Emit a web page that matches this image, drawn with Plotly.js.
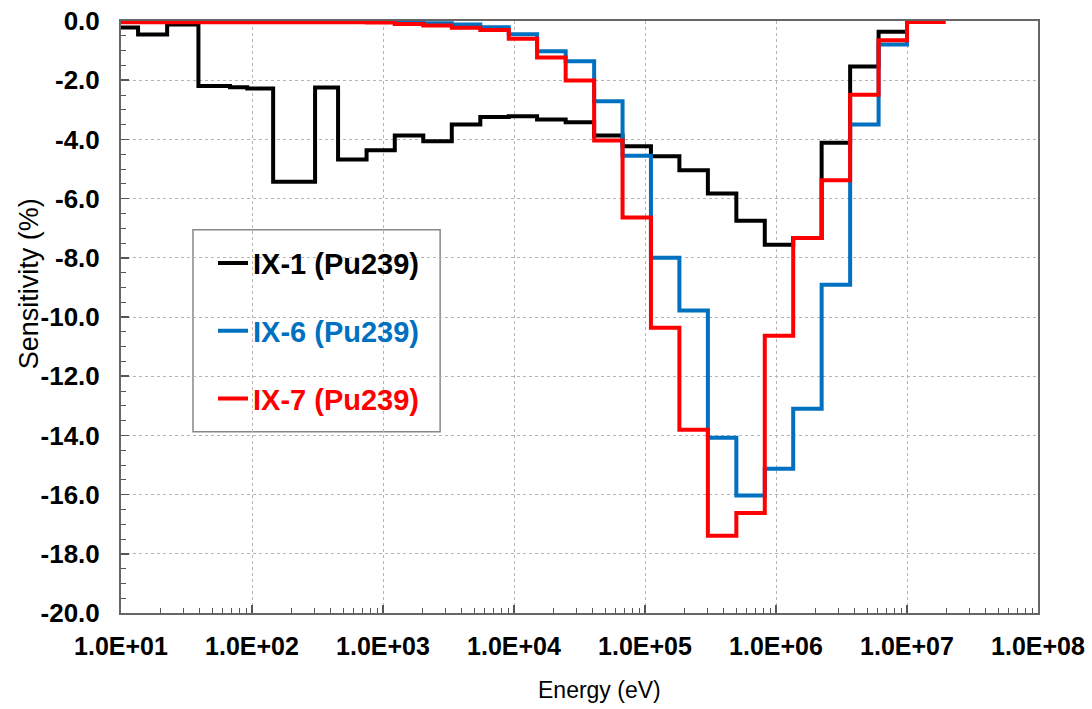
<!DOCTYPE html>
<html>
<head>
<meta charset="utf-8">
<script src="https://cdn.plot.ly/plotly-3.0.1.min.js"></script>
<style>
html,body{margin:0;padding:0;background:#ffffff;}
#chart{width:1092px;height:709px;}
</style>
</head>
<body>
<div id="chart"></div>
<script>
// Energy group boundaries (eV), lowest to highest
const energyBounds = [10, 13.5, 22.5, 39, 68, 92, 145, 303, 454, 749, 1230, 2030, 3350, 5530, 9120,
  15000, 24800, 40900, 67400, 111000, 183000, 302000, 498000, 821000, 1353000, 2230000, 3680000,
  6070000, 10000000, 19600000];

// Sensitivity (%) per energy group
const ix1 = [-0.22, -0.46, -0.12, -2.20, -2.24, -2.28, -5.43, -2.25, -4.68, -4.37, -3.87, -4.06, -3.50,
  -3.24, -3.22, -3.33, -3.42, -3.87, -4.23, -4.57, -5.04, -5.83, -6.75, -7.56, -7.33, -4.11, -1.54,
  -0.36, -0.03];
const ix6 = [-0.01, -0.01, -0.01, -0.01, -0.01, -0.01, -0.01, -0.01, -0.01, -0.03, -0.05, -0.08, -0.12,
  -0.21, -0.45, -1.02, -1.36, -2.71, -4.55, -8.00, -9.78, -14.08, -16.03, -15.13, -13.10, -8.91, -3.50,
  -0.79, -0.03];
const ix7 = [-0.04, -0.04, -0.04, -0.04, -0.04, -0.04, -0.04, -0.04, -0.04, -0.05, -0.10, -0.15, -0.23,
  -0.30, -0.60, -1.23, -2.01, -4.04, -6.64, -10.36, -13.81, -17.39, -16.62, -10.63, -7.33, -5.38, -2.49,
  -0.65, -0.03];

const seriesNames = ["IX-1 (Pu239)", "IX-6 (Pu239)", "IX-7 (Pu239)"];
const seriesColors = ["#000000", "#0070C0", "#FF0000"];

const xTickVals = [1e1, 1e2, 1e3, 1e4, 1e5, 1e6, 1e7, 1e8];
const xTickText = ["1.0E+01", "1.0E+02", "1.0E+03", "1.0E+04", "1.0E+05", "1.0E+06", "1.0E+07", "1.0E+08"];
const yTickVals = [0, -2, -4, -6, -8, -10, -12, -14, -16, -18, -20];
const yTickText = ["0.0", "-2.0", "-4.0", "-6.0", "-8.0", "-10.0", "-12.0", "-14.0", "-16.0", "-18.0", "-20.0"];

const xTitle = "Energy (eV)";
const yTitle = "Sensitivity (%)";

const FONT = '"Liberation Sans", Arial, sans-serif';

function stepTrace(vals, i) {
  return {
    type: 'scatter',
    mode: 'lines',
    x: energyBounds,
    y: vals.concat([vals[vals.length - 1]]),
    line: {shape: 'hv', color: seriesColors[i], width: 4},
    name: '<span style="color:' + seriesColors[i] + '">' + seriesNames[i] + '</span>',
    legendgroup: 'g' + i,
    hoverinfo: 'x+y'
  };
}

const data = [stepTrace(ix1, 0), stepTrace(ix6, 1), stepTrace(ix7, 2)];

const layout = {
  width: 1092,
  height: 709,
  margin: {l: 121, r: 54, t: 21, b: 96},
  paper_bgcolor: '#ffffff',
  plot_bgcolor: '#ffffff',
  font: {family: FONT, color: '#000000'},
  showlegend: true,
  legend: {
    x: 0.1003, xanchor: 'left',
    y: 0.634, yanchor: 'top',
    bgcolor: 'rgba(0,0,0,0)',
    borderwidth: 0,
    tracegroupgap: 27,
    font: {family: FONT, size: 29, weight: 'bold'}
  },
  shapes: [{
    type: 'rect', xref: 'paper', yref: 'paper', layer: 'between',
    x0: 0.0785, x1: 0.348, y0: 0.306, y1: 0.6475,
    line: {color: '#888888', width: 1.5},
    fillcolor: '#ffffff'
  }],
  annotations: [
    {text: xTitle, xref: 'paper', yref: 'paper', x: 0.522, y: -0.130,
     xanchor: 'center', yanchor: 'middle', showarrow: false,
     font: {family: FONT, size: 23, color: '#000000'}},
    {text: yTitle, xref: 'paper', yref: 'paper', x: -0.101, y: 0.556, textangle: -90,
     xanchor: 'center', yanchor: 'middle', showarrow: false,
     font: {family: FONT, size: 27, color: '#000000'}}
  ],
  xaxis: {
    type: 'log',
    range: [1, 8],
    tickvals: xTickVals,
    ticktext: xTickText,
    tickfont: {family: FONT, size: 25, weight: 'bold'},
    ticks: 'inside', ticklen: 8, tickwidth: 1.5, tickcolor: '#555555',
    minor: {ticks: 'inside', ticklen: 5, tickwidth: 1, tickcolor: '#555555', dtick: 'D1', showgrid: false},
    ticklabelstandoff: 10,
    showgrid: true, gridcolor: '#b4b4b4', griddash: 'dot', gridwidth: 1,
    showline: true, linecolor: '#666666', linewidth: 2, mirror: true,
    zeroline: false
  },
  yaxis: {
    range: [-20, 0],
    tickvals: yTickVals,
    ticktext: yTickText,
    tickfont: {family: FONT, size: 26, weight: 'bold'},
    ticks: 'inside', ticklen: 8, tickwidth: 1.5, tickcolor: '#555555',
    minor: {ticks: 'inside', ticklen: 5, tickwidth: 1, tickcolor: '#555555', dtick: 0.5, showgrid: false},
    ticklabelstandoff: 14,
    showgrid: true, gridcolor: '#b4b4b4', griddash: 'dot', gridwidth: 1,
    showline: true, linecolor: '#666666', linewidth: 2, mirror: true,
    zeroline: false
  }
};

Plotly.newPlot('chart', data, layout, {displayModeBar: false, staticPlot: true});
</script>
</body>
</html>
